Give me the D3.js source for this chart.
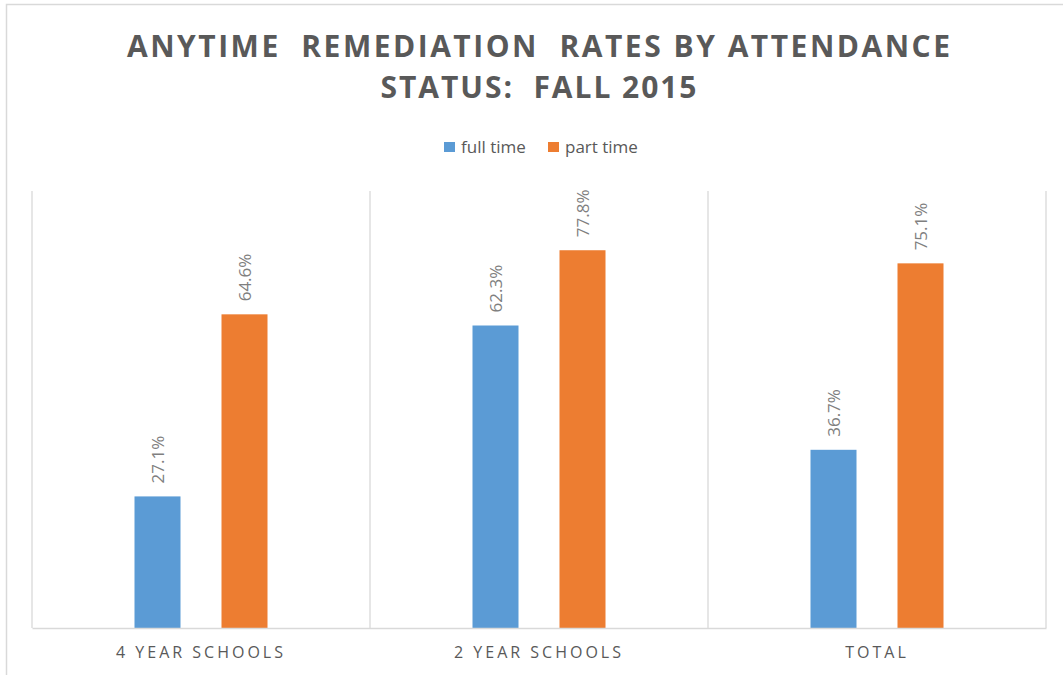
<!DOCTYPE html>
<html>
<head>
<meta charset="utf-8">
<script src="https://cdn.jsdelivr.net/npm/d3@7"></script>
<style>
  html, body { margin: 0; padding: 0; background: #fff; }
  svg { display: block; }
  text { font-family: "Open Sans", "Noto Sans", sans-serif; }
</style>
</head>
<body>
<svg id="chart" width="1063" height="675"></svg>
<script>
// ---- data ----
const categories = ["4 YEAR SCHOOLS", "2 YEAR SCHOOLS", "TOTAL"];
const seriesNames = ["full time", "part time"];
const fullTime = [0.271, 0.623, 0.367];
const partTime = [0.646, 0.778, 0.751];
const seriesColors = ["#5b9bd5", "#ed7d31"];
const titleLines = ["ANYTIME  REMEDIATION  RATES BY ATTENDANCE", "STATUS:  FALL 2015"];
const yMax = 0.9;

// ---- layout ----
const W = 1063, H = 675;
const plot = { left: 32, right: 1046, top: 191, bottom: 628 };
const svg = d3.select("#chart");

// outer chart border
svg.append("rect")
  .attr("x", 6.5).attr("y", 4.5)
  .attr("width", W + 10).attr("height", H + 10)
  .attr("fill", "none").attr("stroke", "#d9d9d9").attr("stroke-width", 1.5);

// title
const titleWidths = [823, 316];
const titleBaselines = [57, 98];
svg.selectAll("text.title").data(titleLines).join("text")
  .attr("class", "title")
  .attr("x", 538.5)
  .attr("y", (d, i) => titleBaselines[i])
  .attr("text-anchor", "middle")
  .attr("font-size", 30)
  .attr("font-weight", 700)
  .attr("fill", "#595959")
  .attr("textLength", (d, i) => titleWidths[i])
  .attr("lengthAdjust", "spacing")
  .style("white-space", "pre")
  .text(d => d);

// legend
const legendX = [444, 548];
const lg = svg.append("g").attr("class", "legend");
seriesNames.forEach((name, i) => {
  lg.append("rect")
    .attr("x", legendX[i]).attr("y", 142)
    .attr("width", 11).attr("height", 10)
    .attr("fill", seriesColors[i]);
  lg.append("text")
    .attr("x", legendX[i] + 17).attr("y", 153)
    .attr("font-size", 17)
    .attr("fill", "#595959")
    .text(name);
});

// scales
const x0 = d3.scaleBand().domain(categories).range([plot.left, plot.right]).padding(0);
const groupW = 133;
const x1 = d3.scaleBand().domain(seriesNames)
  .range([(x0.bandwidth() - groupW) / 2, (x0.bandwidth() + groupW) / 2])
  .paddingInner(41 / 87).paddingOuter(0);
const y = d3.scaleLinear().domain([0, yMax]).range([plot.bottom, plot.top]);

// vertical category gridlines
const boundaries = categories.map(c => x0(c)).concat([plot.right]);
svg.append("g").selectAll("line").data(boundaries).join("line")
  .attr("x1", d => d).attr("x2", d => d)
  .attr("y1", plot.top).attr("y2", plot.bottom)
  .attr("stroke", "#d9d9d9").attr("stroke-width", 1.3);

// bars
const seriesValues = [fullTime, partTime];
const rows = [];
categories.forEach((c, ci) => {
  seriesNames.forEach((s, si) => {
    rows.push({ cat: c, series: s, value: seriesValues[si][ci], color: seriesColors[si] });
  });
});

svg.append("g").selectAll("rect").data(rows).join("rect")
  .attr("x", d => x0(d.cat) + x1(d.series))
  .attr("y", d => y(d.value))
  .attr("width", x1.bandwidth())
  .attr("height", d => y(0) - y(d.value))
  .attr("fill", d => d.color);

// data labels (rotated)
svg.append("g").selectAll("text").data(rows).join("text")
  .attr("transform", d => {
    const cx = x0(d.cat) + x1(d.series) + x1.bandwidth() / 2;
    const ty = y(d.value) - 13;
    return `translate(${cx},${ty}) rotate(-90)`;
  })
  .attr("text-anchor", "start")
  .attr("dominant-baseline", "central")
  .attr("font-size", 17)
  .attr("fill", "#7f7f7f")
  .text(d => d3.format(".1%")(d.value));

// x axis
const xAxis = d3.axisBottom(x0).tickSize(0).tickPadding(0);
const ax = svg.append("g").attr("transform", `translate(0,${plot.bottom})`).call(xAxis);
ax.select(".domain").attr("stroke", "#d9d9d9").attr("stroke-width", 1.3);
ax.selectAll(".tick text")
  .attr("y", 30)
  .attr("dy", 0)
  .attr("font-size", 16)
  .attr("font-family", "\"Open Sans\", sans-serif")
  .attr("fill", "#595959")
  .attr("letter-spacing", "3px");
</script>
</body>
</html>
